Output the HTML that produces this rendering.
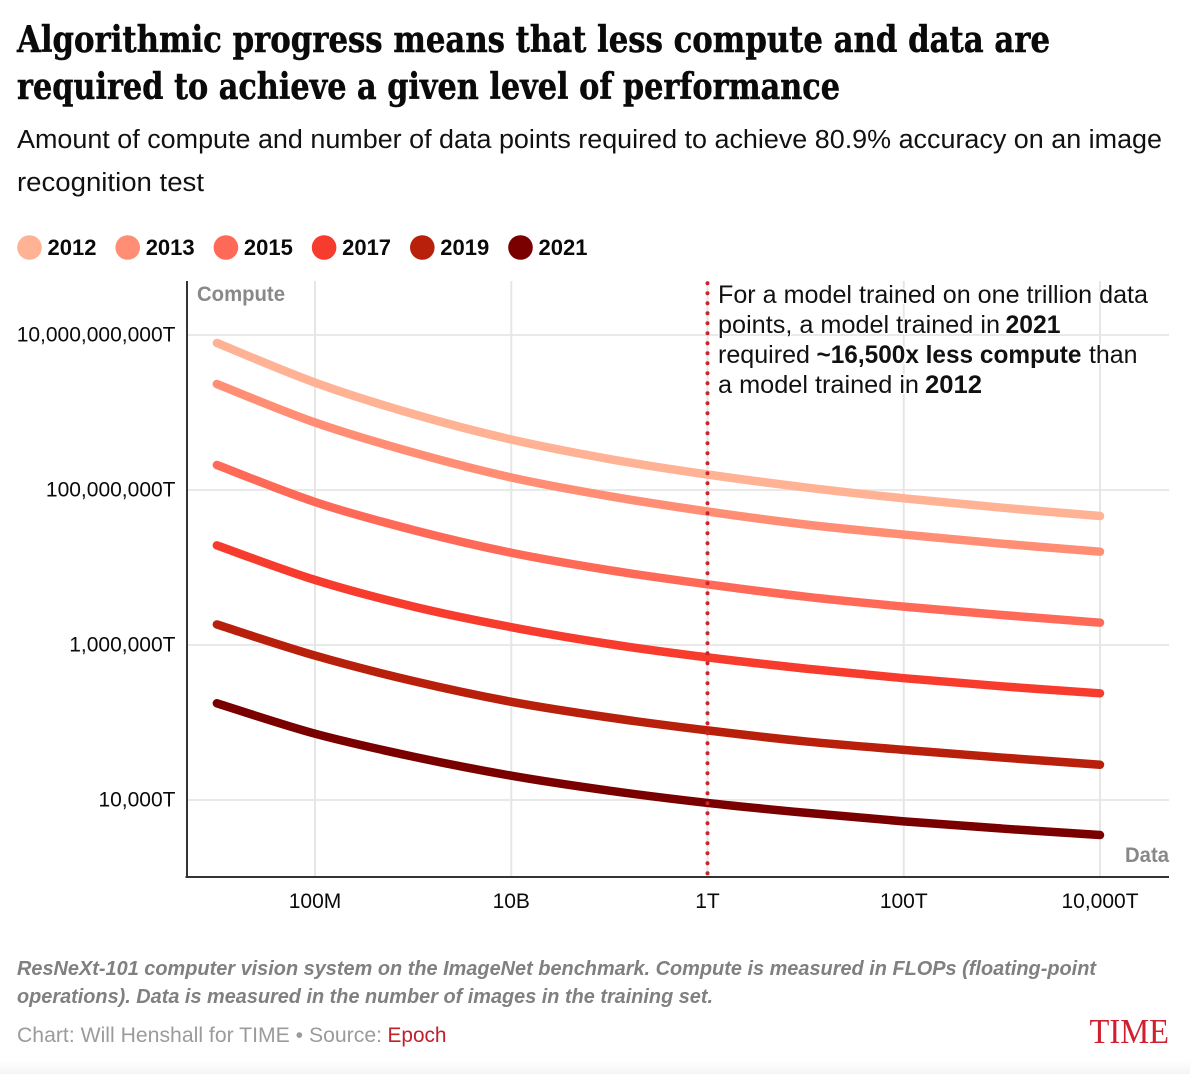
<!DOCTYPE html>
<html lang="en">
<head>
<meta charset="utf-8">
<title>Algorithmic progress chart</title>
<style>
html,body{margin:0;padding:0;background:#fff;width:1190px;height:1074px;overflow:hidden}
svg{display:block}
text{font-family:"Liberation Sans",sans-serif}
.title{font-family:"DejaVu Serif",serif;font-weight:700;font-size:36px;fill:#0a0a0a;stroke:#0a0a0a;stroke-width:.5px}
.sub{font-size:25.5px;fill:#111}
.anno{font-size:25px;fill:#111;paint-order:stroke;stroke:#fff;stroke-width:2.5px}
.anno-b{font-weight:700}
.tick{font-size:21px;fill:#0a0a0a}
.axis-title{font-size:21px;font-weight:700;fill:#888}
.note{font-size:20.5px;font-weight:700;font-style:italic;fill:#808080}
.credit{font-size:21px;fill:#9b9b9b}
.legend-label{font-size:22px;font-weight:700;fill:#0a0a0a}
</style>
</head>
<body>
<svg id="chart" xmlns="http://www.w3.org/2000/svg" width="1190" height="1074" viewBox="0 0 1190 1074">
  <defs>
    <linearGradient id="bottom-fade" x1="0" y1="0" x2="0" y2="1">
      <stop offset="0" stop-color="#ffffff"/>
      <stop offset="1" stop-color="#f5f5f5"/>
    </linearGradient>
  </defs>
  <rect x="0" y="0" width="1190" height="1074" fill="#ffffff"/>
  <rect x="0" y="1060" width="1190" height="14" fill="url(#bottom-fade)"/>

  <text class="title" x="17" y="52" textLength="1033" lengthAdjust="spacingAndGlyphs">Algorithmic progress means that less compute and data are</text>
  <text class="title" x="17" y="99" textLength="823" lengthAdjust="spacingAndGlyphs">required to achieve a given level of performance</text>
  <text class="sub" x="17" y="148" textLength="1145" lengthAdjust="spacingAndGlyphs">Amount of compute and number of data points required to achieve 80.9% accuracy on an image</text>
  <text class="sub" x="17" y="191" textLength="187" lengthAdjust="spacingAndGlyphs">recognition test</text>

  <g id="legend"></g>
  <g id="grid"></g>
  <g id="axes"></g>
  <g id="series"></g>
  <g id="marker"></g>

  <text class="axis-title" x="197" y="301" textLength="88" lengthAdjust="spacingAndGlyphs">Compute</text>
  <text class="axis-title" x="1125" y="862" textLength="44" lengthAdjust="spacingAndGlyphs">Data</text>

  <g>
    <text class="anno" x="718" y="303" textLength="430" lengthAdjust="spacingAndGlyphs">For a model trained on one trillion data</text>
    <text class="anno" x="718" y="333" textLength="282" lengthAdjust="spacingAndGlyphs">points, a model trained in</text>
    <text class="anno anno-b" x="1005.5" y="333" textLength="55" lengthAdjust="spacingAndGlyphs">2021</text>
    <text class="anno" x="718" y="363" textLength="92" lengthAdjust="spacingAndGlyphs">required</text>
    <text class="anno anno-b" x="816.5" y="363" textLength="265" lengthAdjust="spacingAndGlyphs">~16,500x less compute</text>
    <text class="anno" x="1089" y="363" textLength="48.5" lengthAdjust="spacingAndGlyphs">than</text>
    <text class="anno" x="718" y="393" textLength="201" lengthAdjust="spacingAndGlyphs">a model trained in</text>
    <text class="anno anno-b" x="925" y="393" textLength="57" lengthAdjust="spacingAndGlyphs">2012</text>
  </g>

  <text class="note" x="17" y="975" textLength="1079" lengthAdjust="spacingAndGlyphs">ResNeXt-101 computer vision system on the ImageNet benchmark. Compute is measured in FLOPs (floating-point</text>
  <text class="note" x="17" y="1003" textLength="696" lengthAdjust="spacingAndGlyphs">operations). Data is measured in the number of images in the training set.</text>
  <text class="credit" x="17" y="1042" textLength="365" lengthAdjust="spacingAndGlyphs">Chart: Will Henshall for TIME • Source:</text>
  <text class="credit" x="387.5" y="1042" textLength="59" lengthAdjust="spacingAndGlyphs" style="fill:#c0202a">Epoch</text>
  <text x="1089.5" y="1043" textLength="79.5" lengthAdjust="spacingAndGlyphs" style="font-family:'Liberation Serif',serif;font-size:35px;fill:#d0202f">TIME</text>
</svg>

<script>
// Training-set size (data points) at which each curve was read
const dataPoints = [1e7, 1e8, 1e9, 1e10, 1e11, 1e12, 1e13, 1e14, 1e15, 1e16];

// Compute required (in trillions, T) per year
const compute2012 = [7.89e9, 2.43e9, 9.56e8, 4.48e8, 2.51e8, 1.585e8, 1.08e8, 7.81e7, 5.91e7, 4.62e7];
const compute2013 = [2.33e9, 7.43e8, 3.05e8, 1.45e8, 8.32e7, 5.28e7, 3.59e7, 2.66e7, 2.03e7, 1.60e7];
const compute2015 = [2.10e8, 7.00e7, 3.05e7, 1.55e7, 9.23e6, 6.07e6, 4.20e6, 3.13e6, 2.44e6, 1.94e6];
const compute2017 = [1.93e7, 6.90e6, 3.14e6, 1.70e6, 1.03e6, 6.92e5, 4.96e5, 3.73e5, 2.93e5, 2.38e5];
const compute2019 = [1.84e6, 7.30e5, 3.43e5, 1.85e5, 1.16e5, 7.91e4, 5.70e4, 4.44e4, 3.53e4, 2.85e4];
const compute2021 = [1.77e5, 7.17e4, 3.63e4, 2.06e4, 1.32e4, 9.17e3, 6.84e3, 5.30e3, 4.28e3, 3.53e3];

const years = ['2012', '2013', '2015', '2017', '2019', '2021'];
const seriesValues = [compute2012, compute2013, compute2015, compute2017, compute2019, compute2021];
const seriesColors = ['#ffb294', '#ff8e75', '#ff6a58', '#f73c2e', '#b8200c', '#7a0000'];

const xTickValues = [1e8, 1e10, 1e12, 1e14, 1e16];
const xTickLabels = ['100M', '10B', '1T', '100T', '10,000T'];
const yTickValues = [1e10, 1e8, 1e6, 1e4];
const yTickLabels = ['10,000,000,000T', '100,000,000T', '1,000,000T', '10,000T'];
const referenceData = 1e12;

const NS = 'http://www.w3.org/2000/svg';
const plot = { left: 187, right: 1169, top: 281, bottom: 877 };

function xScale(v) {
  return 315 + (Math.log10(v) - 8) * 98.125;
}
function yScale(v) {
  return 800 - (Math.log10(v) - 4) * 77.5;
}
function make(tag, parent, attrs) {
  const el = document.createElementNS(NS, tag);
  Object.keys(attrs).forEach(function (k) { el.setAttribute(k, attrs[k]); });
  parent.appendChild(el);
  return el;
}
function smoothPath(pts) {
  let d = 'M' + pts[0][0].toFixed(2) + ' ' + pts[0][1].toFixed(2);
  for (let i = 0; i < pts.length - 1; i++) {
    const p0 = pts[Math.max(0, i - 1)];
    const p1 = pts[i];
    const p2 = pts[i + 1];
    const p3 = pts[Math.min(pts.length - 1, i + 2)];
    const c1x = p1[0] + (p2[0] - p0[0]) / 6;
    const c1y = p1[1] + (p2[1] - p0[1]) / 6;
    const c2x = p2[0] - (p3[0] - p1[0]) / 6;
    const c2y = p2[1] - (p3[1] - p1[1]) / 6;
    d += 'C' + c1x.toFixed(2) + ' ' + c1y.toFixed(2) + ' ' + c2x.toFixed(2) + ' ' + c2y.toFixed(2) + ' ' + p2[0].toFixed(2) + ' ' + p2[1].toFixed(2);
  }
  return d;
}

const legendGroup = document.getElementById('legend');
const gridGroup = document.getElementById('grid');
const axesGroup = document.getElementById('axes');
const seriesGroup = document.getElementById('series');
const markerGroup = document.getElementById('marker');

// Legend
years.forEach(function (year, i) {
  const cx = 29.5 + i * 98.2;
  const swatch = make('ellipse', legendGroup, { cx: cx, cy: 247.5, rx: 12.3, ry: 12.3, fill: seriesColors[i] });
  
  
  const label = make('text', legendGroup, { x: cx + 18, y: 255, class: 'legend-label' });
  
  
  label.textContent = year;
});

// Gridlines and tick labels
yTickValues.forEach(function (v, i) {
  const y = yScale(v);
  const line = make('line', gridGroup, { x1: plot.left, x2: plot.right, y1: y, y2: y, stroke: '#e6e6e6', 'stroke-width': 1.7 });
  
  
  const label = make('text', axesGroup, { x: 175.5, y: y + 6.7, class: 'tick', 'text-anchor': 'end' });
  
  
  label.textContent = yTickLabels[i];
});
xTickValues.forEach(function (v, i) {
  const x = xScale(v);
  const line = make('line', gridGroup, { x1: x, x2: x, y1: plot.top, y2: plot.bottom, stroke: '#e6e6e6', 'stroke-width': 2 });
  
  
  const label = make('text', axesGroup, { x: x, y: 908, class: 'tick', 'text-anchor': 'middle' });
  
  
  label.textContent = xTickLabels[i];
});

// Axis lines
const yAxisLine = make('line', axesGroup, { x1: plot.left, x2: plot.left, y1: plot.top, y2: plot.bottom, stroke: '#333', 'stroke-width': 2 });


const xAxisLine = make('line', axesGroup, { x1: 185.5, x2: plot.right, y1: plot.bottom, y2: plot.bottom, stroke: '#333', 'stroke-width': 2 });



// Series
seriesValues.forEach(function (values, i) {
  const pts = values.map(function (v, j) { return [xScale(dataPoints[j]), yScale(v)]; });
  const path = make('path', seriesGroup, {
    d: smoothPath(pts), fill: 'none', stroke: seriesColors[i],
    'stroke-width': 8.5, 'stroke-linecap': 'round', 'stroke-linejoin': 'round'
  });
  
  
});

// Dotted reference line at one trillion data points
const refX = xScale(referenceData);
const refLine = make('line', markerGroup, {
  x1: refX, x2: refX, y1: 283.3, y2: plot.bottom - 1, stroke: '#c8252c',
  'stroke-width': 4, 'stroke-linecap': 'round', 'stroke-dasharray': '0 10'
});


</script>
</body>
</html>
